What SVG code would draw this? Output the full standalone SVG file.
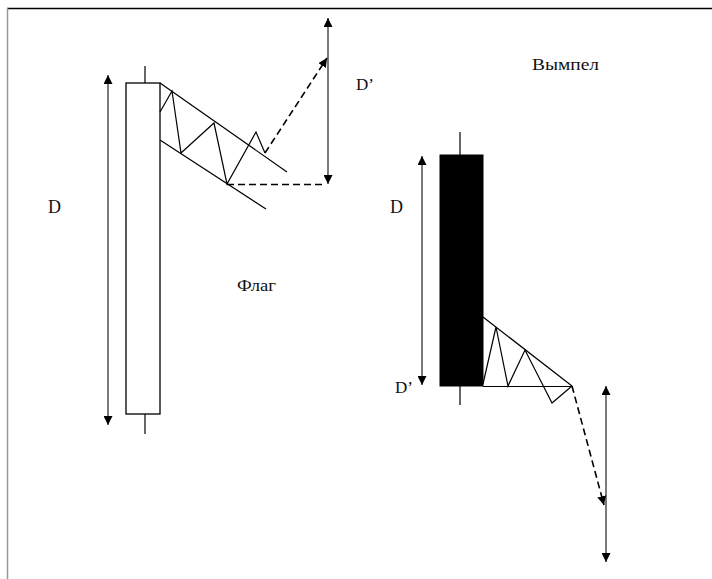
<svg xmlns="http://www.w3.org/2000/svg" width="712" height="579" viewBox="0 0 712 579">
<style>
.ln{stroke:#000;stroke-width:1.2;fill:none}
.ar{stroke:#333;stroke-width:1.3;fill:none}
.ds{stroke:#000;stroke-width:1.6;fill:none;stroke-dasharray:7,4}
.t{font-family:"Liberation Serif","DejaVu Serif","Times New Roman",serif;fill:#111}
</style>
<defs>
<marker id="ah" viewBox="0 0 10 10" refX="10" refY="5" markerWidth="9" markerHeight="9" markerUnits="userSpaceOnUse" orient="auto-start-reverse">
<path d="M0,0 L10,5 L0,10 Z" fill="#000"/>
</marker>
</defs>
<rect width="712" height="579" fill="#fff"/>
<g id="frame">
<line x1="7" y1="8.5" x2="712" y2="8.5" stroke="#000" stroke-width="1.6"/>
<line x1="7.5" y1="8" x2="7.5" y2="579" stroke="#999" stroke-width="1.5"/>
</g>
<g id="flag-candle">
<line class="ln" x1="145" y1="66" x2="145" y2="83"/>
<line class="ln" x1="145" y1="414" x2="145" y2="434"/>
<rect x="126" y="83" width="34" height="331" fill="#fff" stroke="#000" stroke-width="1.3"/>
</g>
<g id="flag-channel">
<line class="ln" x1="160" y1="83" x2="287" y2="172"/>
<line class="ln" x1="160" y1="140" x2="266" y2="209"/>
<polyline class="ln" points="160,112 172,91 181,153 214,123 227,184 256,132 265,153"/>
</g>
<g id="pennant-candle">
<line class="ln" x1="460" y1="132" x2="460" y2="155"/>
<line class="ln" x1="460" y1="386" x2="460" y2="405"/>
<rect x="440" y="155" width="43" height="231" fill="#000" stroke="#000" stroke-width="1"/>
</g>
<g id="pennant-shape">
<line class="ln" x1="483" y1="317" x2="572" y2="386"/>
<line class="ln" x1="483" y1="386.5" x2="572" y2="386.5"/>
<polyline class="ln" points="483,384 496,327 508,386 525,350 552,403 572,386" stroke="#222"/>
</g>
<g id="connectors">
<line class="ar" x1="108" y1="75" x2="108" y2="425" marker-start="url(#ah)" marker-end="url(#ah)"/>
<line class="ar" x1="328" y1="18" x2="328" y2="184" marker-start="url(#ah)" marker-end="url(#ah)"/>
<line class="ds" x1="265" y1="153" x2="327" y2="58" marker-end="url(#ah)"/>
<line class="ds" x1="227" y1="184.5" x2="326" y2="184.5"/>
<line class="ar" x1="422" y1="156" x2="422" y2="385" marker-start="url(#ah)" marker-end="url(#ah)"/>
<line class="ar" x1="606" y1="386" x2="606" y2="562" marker-start="url(#ah)" marker-end="url(#ah)"/>
<line class="ds" x1="572" y1="386" x2="604" y2="505" marker-end="url(#ah)"/>
</g>
<g id="labels">
<text class="t" x="48" y="213" font-size="18">D</text>
<text class="t" x="237" y="291" font-size="16" textLength="39" lengthAdjust="spacingAndGlyphs">Флаг</text>
<text class="t" x="532" y="70" font-size="16" textLength="67" lengthAdjust="spacingAndGlyphs">Вымпел</text>
<text class="t" x="356" y="90" font-size="17">D’</text>
<text class="t" x="390" y="213" font-size="18">D</text>
<text class="t" x="395" y="393" font-size="17">D’</text>
</g>
</svg>
